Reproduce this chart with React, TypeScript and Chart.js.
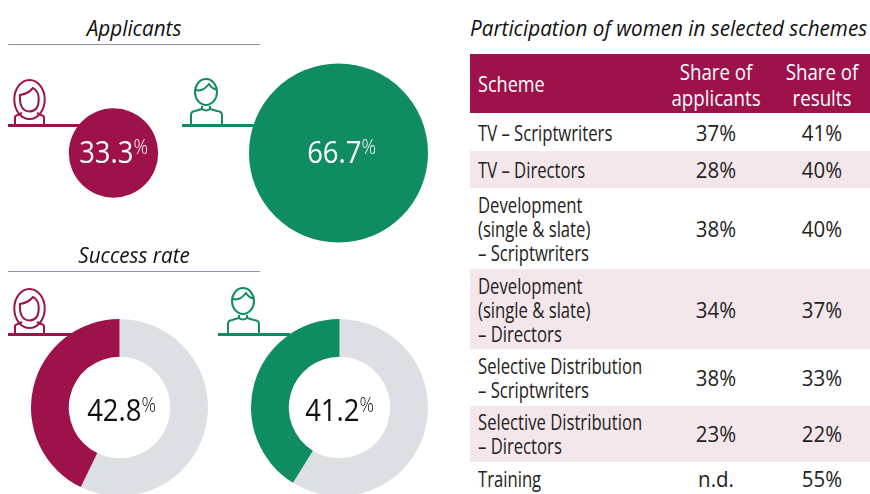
import React, { useEffect, useRef } from "react";
import { Chart, registerables } from "chart.js";

Chart.register(...registerables);

const CRIMSON = "#9E124B";
const GREEN = "#0F8C60";
const GREY = "#DCDFE4";
const PINK = "#F4E7EB";
const FONT = "'Open Sans', 'Noto Sans', sans-serif";

const applicantLabels = ["Women", "Men"];
const applicantValues = [33.3, 66.7];
const applicantColors = [CRIMSON, GREEN];
const womenSuccess = 42.8;
const menSuccess = 41.2;

const tableHead = ["Scheme", "Share of\napplicants", "Share of\nresults"];
const schemes = [
  "TV \u2013 Scriptwriters",
  "TV \u2013 Directors",
  "Development\n(single & slate)\n\u2013 Scriptwriters",
  "Development\n(single & slate)\n\u2013 Directors",
  "Selective Distribution\n\u2013 Scriptwriters",
  "Selective Distribution\n\u2013 Directors",
  "Training",
];
const shareApplicants = ["37%", "28%", "38%", "34%", "38%", "23%", "n.d."];
const shareResults = ["41%", "40%", "40%", "37%", "33%", "22%", "55%"];
const rowHeights = [38, 37, 81, 80, 56.5, 56.5, 32];

const PX_PER_POINT = 1.342;

function useChart(make: (c: HTMLCanvasElement) => Chart) {
  const ref = useRef<HTMLCanvasElement>(null);
  useEffect(() => {
    const chart = make(ref.current!);
    return () => chart.destroy();
  }, []);
  return ref;
}

function Bubbles() {
  const ref = useChart(
    (c) =>
      new Chart(c, {
        type: "bubble",
        data: {
          labels: applicantLabels,
          datasets: [
            {
              data: applicantLabels.map((l, i) => ({ x: l, y: "Share", r: applicantValues[i] * PX_PER_POINT })) as any,
              backgroundColor: applicantColors,
              borderWidth: 0,
              clip: false as any,
            },
          ],
        },
        options: {
          animation: false,
          responsive: false,
          layout: { padding: 0, autoPadding: false },
          plugins: { legend: { display: false }, tooltip: { enabled: false } },
          scales: {
            x: { type: "category", labels: applicantLabels, offset: true, display: false },
            y: { type: "category", labels: ["Share"], offset: true, display: false },
          },
        },
      })
  );
  return <canvas ref={ref} width={450} height={190} style={{ position: "absolute", left: 1, top: 57.5 }} />;
}

function Ring({ value, color, left }: { value: number; color: string; left: number }) {
  const ref = useChart(
    (c) =>
      new Chart(c, {
        type: "doughnut",
        data: {
          labels: ["Other", "Success"],
          datasets: [{ data: [100 - value, value], backgroundColor: [GREY, color], borderWidth: 0 }],
        },
        options: {
          animation: false,
          responsive: false,
          cutout: "57.3%",
          layout: { padding: 0 },
          plugins: { legend: { display: false }, tooltip: { enabled: false } },
        },
      })
  );
  return <canvas ref={ref} width={177} height={177} style={{ position: "absolute", left, top: 319 }} />;
}

function Abs({ x, y, w, align = "left", size, color = "#111", italic, weight = 400, sx = 0.88, children }: any) {
  const origin = align === "center" ? "center" : "left";
  return (
    <div
      style={{
        position: "absolute",
        left: x,
        top: y,
        width: w,
        textAlign: align,
        fontFamily: FONT,
        fontSize: size,
        fontStyle: italic ? "italic" : "normal",
        fontWeight: weight,
        color,
        whiteSpace: "pre",
        lineHeight: 1,
        transform: `scaleX(${sx})`,
        transformOrigin: origin,
      }}
    >
      {children}
    </div>
  );
}

function Pct({ cx, y, text, color }: { cx: number; y: number; text: string; color: string }) {
  return (
    <Abs x={cx - 60} y={y} w={120} align="center" size={30.5} color={color} sx={0.9}>
      {text}
      <span style={{ fontSize: 20, fontWeight: 300, position: "relative", top: -9, letterSpacing: 1 }}>%</span>
    </Abs>
  );
}

function Rule({ x, y, w, h, color }: any) {
  return <div style={{ position: "absolute", left: x, top: y, width: w, height: h, background: color }} />;
}

function Woman({ x, y, color }: { x: number; y: number; color: string }) {
  return (
    <svg width={40} height={50} viewBox="0 0 40 50" style={{ position: "absolute", left: x, top: y }} fill="none" stroke={color} strokeWidth={2}>
      <path d="M6 47 V39.5 Q6 37.5 9 37 L13 35 M28 35 L32 37 Q35 37.5 35 39.5 V47" />
      <ellipse cx={20.5} cy={21.5} rx={15.2} ry={19.5} />
      <path d="M11 17 Q19 16 24 10 Q29 13 29.5 18 Q31 33 20.5 33.5 Q10 33 11 17 Z" />
    </svg>
  );
}

function Man({ x, y, color }: { x: number; y: number; color: string }) {
  return (
    <svg width={42} height={50} viewBox="0 0 42 50" style={{ position: "absolute", left: x, top: y }} fill="none" stroke={color} strokeWidth={2}>
      <ellipse cx={20} cy={14} rx={11} ry={13} />
      <path d="M9.5 12 Q17 14 23 6 Q26 11 31 11.5" />
      <path d="M5 47 V37 Q5 33.5 9 33 L16 31 L16 28 M24 28 L24 31 L31 33 Q36 33.5 36 37 V47 M16 31 Q20 34 24 31" />
    </svg>
  );
}

function Table() {
  const cell: React.CSSProperties = { position: "absolute", whiteSpace: "pre", lineHeight: "24px", fontFamily: FONT, fontSize: 21.5, transformOrigin: "left" };
  const center: React.CSSProperties = { width: 120, textAlign: "center", transformOrigin: "center" };
  let top = 113;
  const rows = schemes.map((s, i) => {
    const h = rowHeights[i];
    const y = top;
    top += h;
    const lines = s.split("\n").length;
    const ty = y + h / 2 - (lines * 24) / 2 + 0.7;
    const vy = y + h / 2 - 12 + 0.7;
    return (
      <React.Fragment key={s}>
        {i % 2 === 1 && <Rule x={470} y={y} w={400} h={h} color={PINK} />}
        <div style={{ ...cell, left: 478, top: ty, color: "#222", transform: "scaleX(0.775)" }}>{s}</div>
        <div style={{ ...cell, ...center, left: 656, top: vy, color: "#222", transform: "scaleX(0.95)" }}>{shareApplicants[i]}</div>
        <div style={{ ...cell, ...center, left: 762, top: vy, color: "#222", transform: "scaleX(0.95)" }}>{shareResults[i]}</div>
      </React.Fragment>
    );
  });
  return (
    <>
      <Rule x={470} y={54} w={400} h={59} color={CRIMSON} />
      <div style={{ ...cell, left: 478, top: 72, color: "#fff", transform: "scaleX(0.84)" }}>{tableHead[0]}</div>
      <div style={{ ...cell, ...center, left: 656, top: 59, color: "#fff", lineHeight: "26px", transform: "scaleX(0.87)" }}>{tableHead[1]}</div>
      <div style={{ ...cell, ...center, left: 762, top: 59, color: "#fff", lineHeight: "26px", transform: "scaleX(0.87)" }}>{tableHead[2]}</div>
      {rows}
    </>
  );
}

export default function App() {
  return (
    <div style={{ position: "absolute", left: 0, top: 0, width: 870, height: 494, overflow: "hidden", background: "#fff" }}>
      <Abs x={8} y={16} w={252} align="center" size={22} italic weight={500} sx={0.94}>Applicants</Abs>
      <Rule x={8} y={44} w={252} h={1} color="#8A93A0" />
      <Rule x={8} y={124} w={72} h={3} color={CRIMSON} />
      <Rule x={182} y={124} w={72} h={3} color={GREEN} />
      <Woman x={9} y={78} color={CRIMSON} />
      <Man x={186} y={78} color={GREEN} />
      <Bubbles />
      <Pct cx={114} y={136} text={`${applicantValues[0]}`} color="#fff" />
      <Pct cx={342} y={136} text={`${applicantValues[1]}`} color="#fff" />

      <Abs x={8} y={243} w={252} align="center" size={22} italic weight={500} sx={0.94}>Success rate</Abs>
      <Rule x={8} y={271} w={252} h={1} color="#8A93A0" />
      <Rule x={8} y={333} w={72} h={3} color={CRIMSON} />
      <Rule x={218} y={333} w={72} h={3} color={GREEN} />
      <Woman x={9} y={286.5} color={CRIMSON} />
      <Man x={223.3} y={287} color={GREEN} />
      <Ring value={womenSuccess} color={CRIMSON} left={31} />
      <Ring value={menSuccess} color={GREEN} left={251} />
      <Pct cx={121.5} y={394} text={`${womenSuccess}`} color="#111" />
      <Pct cx={340} y={394} text={`${menSuccess}`} color="#111" />

      <Abs x={470} y={16} size={22} italic weight={500} sx={0.94}>Participation of women in selected schemes</Abs>
      <Table />
    </div>
  );
}
